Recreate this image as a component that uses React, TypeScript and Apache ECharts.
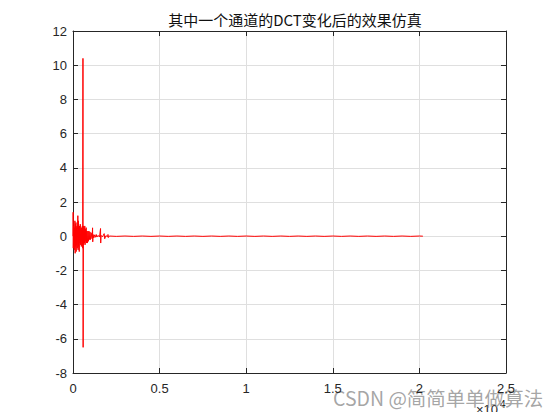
import React, { useEffect, useRef } from "react";
import * as echarts from "echarts";

const title = "其中一个通道的DCT变化后的效果仿真";
const xTickValues = [0, 5000, 10000, 15000, 20000, 25000];
const xTickLabels = ["0", "0.5", "1", "1.5", "2", "2.5"];
const yTickLabels = ["-8", "-6", "-4", "-2", "0", "2", "4", "6", "8", "10", "12"];

// sample index of each read point
const sampleIdx = [
  0, 8, 16, 30, 45, 60, 75, 95, 110, 125, 140, 155, 170, 185, 200, 215, 230, 245, 260, 280,
  295, 310, 325, 340, 360, 380, 400, 420, 440, 460, 480, 500, 520, 540, 560, 575, 585, 600,
  620, 640, 660, 680, 700, 720, 740, 760, 780, 800, 830, 860, 890, 920, 950, 980, 1010, 1050,
  1100, 1130, 1140, 1160, 1200, 1250, 1300, 1340, 1380, 1450, 1530, 1590, 1600, 1620, 1700,
  1800, 1830, 1900, 2000, 2020, 2040, 2100, 2500, 3000, 3500, 4000, 4500, 5000, 5500, 6000,
  6500, 7000, 7500, 8000, 8500, 9000, 9500, 10000, 10500, 11000, 11500, 12000, 12500, 13000,
  13500, 14000, 14500, 15000, 15500, 16000, 16500, 17000, 17500, 18000, 18500, 19000, 19500,
  20000, 20200,
];
// DCT coefficient values
const dctValues = [
  0, 1.4, -0.7, 0.6, -0.4, 0.5, -0.8, 0.3, 0.9, -1.0, 0.7, -0.6, 0.8, -0.9, 0.5, -0.5, 0.6, -0.7, 0.4, 1.2,
  -0.8, 0.9, -0.6, 0.5, -0.9, 0.6, -0.4, 0.7, -0.5, 0.4, -0.6, 0.5, -0.3, 0.6, -0.7, 10.4, -6.5, 0.6,
  -0.5, 0.5, -0.4, 0.6, -0.5, 0.4, -0.3, 0.5, -0.4, 0.3, -0.4, 0.3, -0.3, 0.3, -0.2, 0.25, -0.2, 0.2,
  -0.15, 0.49, -0.33, 0.1, -0.1, 0.08, -0.06, 0.1, -0.05, 0.05, -0.05, 0.45, -0.4, 0.05, -0.04,
  0.15, -0.15, 0.03, -0.03, 0.1, -0.08, 0.01, -0.01, 0.01, -0.01, 0.01, -0.01, 0.01, -0.01, 0.01,
  -0.01, 0.01, -0.01, 0.01, -0.01, 0.01, -0.01, 0.01, -0.01, 0.01, -0.01, 0.01, -0.01, 0.01,
  -0.01, 0.01, -0.01, 0.01, -0.01, 0.01, -0.01, 0.01, -0.01, 0.01, -0.01, 0.01, -0.01,
  0.01, 0,
];

export default function App() {
  const ref = useRef<HTMLDivElement>(null);
  useEffect(() => {
    if (!ref.current) return;
    const chart = echarts.init(ref.current, null, { renderer: "svg" });
    const data = sampleIdx.map((x, i) => [x, dctValues[i]]);
    const axisColor = "#262626";
    const font = "Liberation Sans, Arial, sans-serif";
    const gridLine = { show: true, lineStyle: { color: "#dfdfdf", width: 1 } };
    chart.setOption({
      animation: false,
      backgroundColor: "#ffffff",
      title: {
        text: title,
        left: 290,
        top: 7,
        textAlign: "center",
        textStyle: { fontSize: 15, fontWeight: "normal", color: "#111", fontFamily: "Noto Sans CJK SC, sans-serif" },
      },
      grid: { left: 73, right: 54, top: 31, bottom: 47, containLabel: false },
      xAxis: [
        {
          type: "value",
          min: 0,
          max: 25000,
          interval: 5000,
          position: "bottom",
          axisLine: { show: true, onZero: false, lineStyle: { color: axisColor, width: 1 } },
          axisTick: { show: true, inside: true, length: 5, lineStyle: { color: axisColor } },
          axisLabel: {
            color: "#262626",
            fontSize: 13,
            fontFamily: font,
            margin: 9,
            formatter: (v: number) => {
              const i = xTickValues.indexOf(v);
              return i >= 0 ? xTickLabels[i] : "";
            },
          },
          splitLine: gridLine,
        },
        {
          type: "value",
          min: 0,
          max: 25000,
          interval: 5000,
          position: "top",
          axisLine: { show: true, onZero: false, lineStyle: { color: axisColor, width: 1 } },
          axisTick: { show: true, inside: true, length: 5, lineStyle: { color: axisColor } },
          axisLabel: { show: false },
          splitLine: { show: false },
        },
      ],
      yAxis: [
        {
          type: "value",
          min: -8,
          max: 12,
          interval: 2,
          position: "left",
          axisLine: { show: true, onZero: false, lineStyle: { color: axisColor, width: 1 } },
          axisTick: { show: true, inside: true, length: 5, lineStyle: { color: axisColor } },
          axisLabel: {
            color: "#262626",
            fontSize: 13,
            fontFamily: font,
            margin: 6,
            formatter: (v: number) => {
              const i = Math.round((v + 8) / 2);
              return yTickLabels[i] ?? "";
            },
          },
          splitLine: gridLine,
        },
        {
          type: "value",
          min: -8,
          max: 12,
          interval: 2,
          position: "right",
          axisLine: { show: true, onZero: false, lineStyle: { color: axisColor, width: 1 } },
          axisTick: { show: true, inside: true, length: 5, lineStyle: { color: axisColor } },
          axisLabel: { show: false },
          splitLine: { show: false },
        },
      ],
      series: [
        {
          type: "line",
          data,
          xAxisIndex: 0,
          yAxisIndex: 0,
          showSymbol: false,
          symbol: "none",
          lineStyle: { color: "#ff0000", width: 1 },
        },
      ],
      graphic: [
        {
          type: "text",
          x: 476,
          y: 403,
          style: {
            text: "×10",
            fill: "#262626",
            fontSize: 13,
            fontFamily: font,
          },
        },
        {
          type: "text",
          x: 500,
          y: 399,
          style: {
            text: "4",
            fill: "#262626",
            fontSize: 10,
            fontFamily: font,
          },
        },
        {
          type: "text",
          x: 333,
          y: 388,
          style: {
            text: "CSDN @简简单单做算法",
            fill: "rgba(150,150,150,0.85)",
            fontSize: 19.5,
            fontFamily: "Noto Sans CJK SC, sans-serif",
          },
        },
      ],
    });
    return () => chart.dispose();
  }, []);
  return <div ref={ref} style={{ width: 560, height: 420, margin: -8 }} />;
}
